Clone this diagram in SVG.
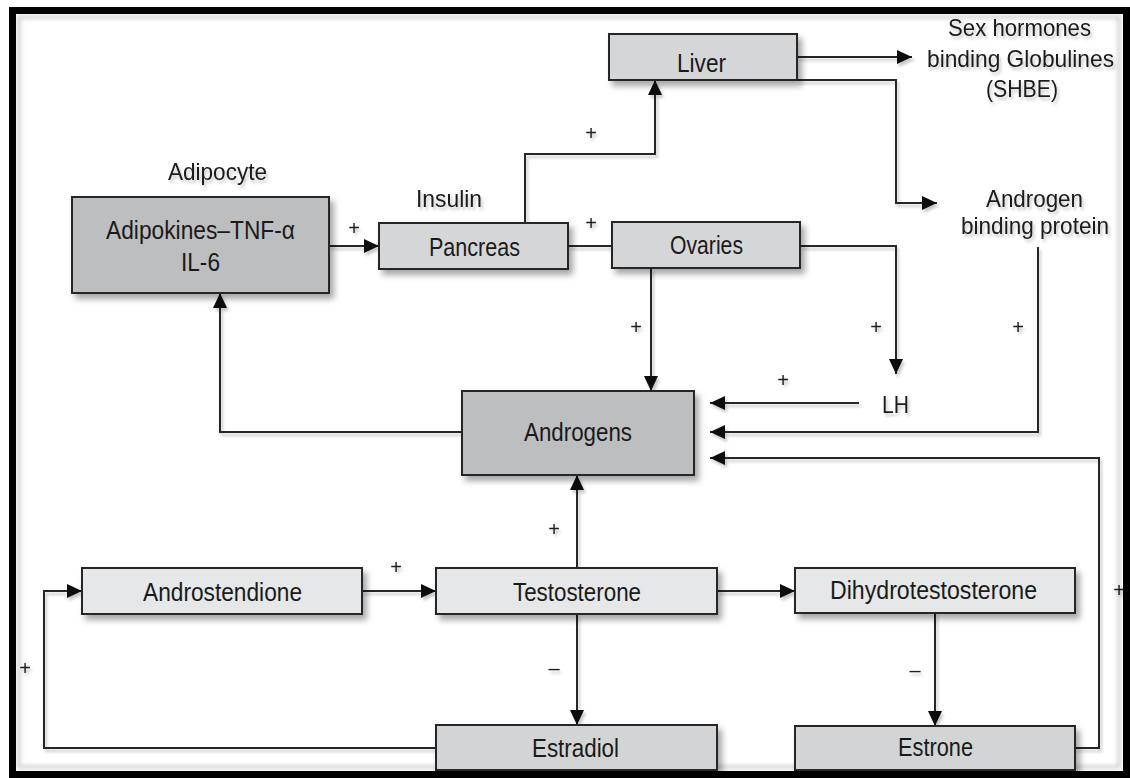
<svg xmlns="http://www.w3.org/2000/svg" width="1130" height="778" viewBox="0 0 1130 778">
<style>
.box{stroke:#262626;stroke-width:2}
.dark{fill:#bdbec0}
.mid{fill:#d5d6d8}
.light{fill:#e6e7e8}
.low{fill:#d3d4d6}
.lbl{font-family:"Liberation Sans Narrow","Liberation Sans",Arial,sans-serif;font-size:26px;fill:#1a1a1a;text-anchor:middle}
.sm{font-size:24px}
.sign{font-family:"Liberation Sans",Arial,sans-serif;font-size:20px;fill:#1a1a1a;text-anchor:middle}
.conn{fill:none;stroke:#262626;stroke-width:2}
</style>
<defs>
<filter id="sh" x="-10%" y="-10%" width="130%" height="140%">
<feDropShadow dx="4" dy="5" stdDeviation="3" flood-color="#000" flood-opacity="0.35"/>
</filter>
<filter id="tsh" x="-10%" y="-20%" width="130%" height="150%">
<feDropShadow dx="2" dy="3" stdDeviation="1.5" flood-color="#000" flood-opacity="0.22"/>
</filter>
<filter id="blur"><feGaussianBlur stdDeviation="2"/></filter>
<marker id="ah" markerUnits="userSpaceOnUse" markerWidth="15" markerHeight="14" viewBox="0 0 15 14" refX="15" refY="7" orient="auto">
<path d="M0,0 L15,7 L0,14 z" fill="#111"/>
</marker>
</defs>
<rect x="0" y="0" width="1130" height="778" fill="#fff"/>
<rect x="19" y="17" width="1100" height="750" fill="none" stroke="#c8c8c8" stroke-width="3" filter="url(#blur)"/>

<g id="connectors" filter="url(#tsh)">
<path class="conn" d="M329,246 H379" marker-end="url(#ah)"/>
<path class="conn" d="M525,223 V154 H655 V80" marker-end="url(#ah)"/>
<path class="conn" d="M568,246 H612"/>
<path class="conn" d="M797,57 H912" marker-end="url(#ah)"/>
<path class="conn" d="M797,80 H896 V203 H937" marker-end="url(#ah)"/>
<path class="conn" d="M800,246 H896 V374" marker-end="url(#ah)"/>
<path class="conn" d="M651,268 V391" marker-end="url(#ah)"/>
<path class="conn" d="M859,403 H710" marker-end="url(#ah)"/>
<path class="conn" d="M1038,247 V432 H710" marker-end="url(#ah)"/>
<path class="conn" d="M1075,748 H1099 V458 H710" marker-end="url(#ah)"/>
<path class="conn" d="M462,432 H220 V293" marker-end="url(#ah)"/>
<path class="conn" d="M577,568 V475" marker-end="url(#ah)"/>
<path class="conn" d="M362,591 H436" marker-end="url(#ah)"/>
<path class="conn" d="M717,591 H795" marker-end="url(#ah)"/>
<path class="conn" d="M577,614 V725" marker-end="url(#ah)"/>
<path class="conn" d="M935,613 V726" marker-end="url(#ah)"/>
<path class="conn" d="M436,748 H44 V591 H82" marker-end="url(#ah)"/>
</g>

<g id="signs" filter="url(#tsh)">
<text class="sign" x="354" y="235">+</text>
<text class="sign" x="591" y="140">+</text>
<text class="sign" x="591" y="230">+</text>
<text class="sign" x="636" y="334">+</text>
<text class="sign" x="876" y="334">+</text>
<text class="sign" x="1018" y="334">+</text>
<text class="sign" x="783" y="387">+</text>
<text class="sign" x="554" y="536">+</text>
<text class="sign" x="396" y="574">+</text>
<text class="sign" x="554" y="675">–</text>
<text class="sign" x="915" y="677">–</text>
<text class="sign" x="25" y="675">+</text>
<text class="sign" x="1119" y="597">+</text>
</g>

<g id="adipocyte-label" filter="url(#tsh)">
<text class="lbl sm" x="217.5" y="180" textLength="99" lengthAdjust="spacingAndGlyphs">Adipocyte</text>
</g>
<g id="adipokines">
<rect class="box dark" x="72" y="197" width="257" height="96" filter="url(#sh)"/>
<text class="lbl" x="200.5" y="239" textLength="189" lengthAdjust="spacingAndGlyphs">Adipokines–TNF-α</text>
<text class="lbl" x="200.5" y="271" textLength="39" lengthAdjust="spacingAndGlyphs">IL-6</text>
</g>
<g id="insulin-label" filter="url(#tsh)">
<text class="lbl sm" x="449" y="206.5" textLength="66" lengthAdjust="spacingAndGlyphs">Insulin</text>
</g>
<g id="pancreas">
<rect class="box mid" x="379" y="223" width="189" height="46" filter="url(#sh)"/>
<text class="lbl" x="474.5" y="256" textLength="91" lengthAdjust="spacingAndGlyphs">Pancreas</text>
</g>
<g id="ovaries">
<rect class="box mid" x="612" y="222" width="188" height="46" filter="url(#sh)"/>
<text class="lbl" x="706.5" y="254" textLength="73" lengthAdjust="spacingAndGlyphs">Ovaries</text>
</g>
<g id="liver">
<rect class="box mid" x="609" y="34" width="188" height="46" filter="url(#sh)"/>
<text class="lbl" x="701.5" y="72" textLength="49" lengthAdjust="spacingAndGlyphs">Liver</text>
</g>
<g id="shbg" filter="url(#tsh)">
<text class="lbl sm" x="1019.5" y="35.5" textLength="143" lengthAdjust="spacingAndGlyphs">Sex hormones</text>
<text class="lbl sm" x="1020.5" y="66.5" textLength="187" lengthAdjust="spacingAndGlyphs">binding Globulines</text>
<text class="lbl sm" x="1022" y="96.5" textLength="72" lengthAdjust="spacingAndGlyphs">(SHBE)</text>
</g>
<g id="abp" filter="url(#tsh)">
<text class="lbl sm" x="1034.5" y="206.5" textLength="97" lengthAdjust="spacingAndGlyphs">Androgen</text>
<text class="lbl sm" x="1035" y="234" textLength="148" lengthAdjust="spacingAndGlyphs">binding protein</text>
</g>
<g id="lh" filter="url(#tsh)">
<text class="lbl sm" x="895.5" y="413" textLength="27" lengthAdjust="spacingAndGlyphs">LH</text>
</g>
<g id="androgens">
<rect class="box dark" x="462" y="391" width="232" height="84" filter="url(#sh)"/>
<text class="lbl" x="578" y="441" textLength="108" lengthAdjust="spacingAndGlyphs">Androgens</text>
</g>
<g id="androstendione">
<rect class="box light" x="82" y="568" width="280" height="46" filter="url(#sh)"/>
<text class="lbl" x="222.5" y="601" textLength="159" lengthAdjust="spacingAndGlyphs">Androstendione</text>
</g>
<g id="testosterone">
<rect class="box light" x="436" y="568" width="281" height="46" filter="url(#sh)"/>
<text class="lbl" x="577" y="601" textLength="128" lengthAdjust="spacingAndGlyphs">Testosterone</text>
</g>
<g id="dihydrotestosterone">
<rect class="box light" x="795" y="568" width="280" height="45" filter="url(#sh)"/>
<text class="lbl" x="933.5" y="599" textLength="207" lengthAdjust="spacingAndGlyphs">Dihydrotestosterone</text>
</g>
<g id="estradiol">
<rect class="box low" x="436" y="725" width="281" height="45" filter="url(#sh)"/>
<text class="lbl" x="575.5" y="757" textLength="87" lengthAdjust="spacingAndGlyphs">Estradiol</text>
</g>
<g id="estrone">
<rect class="box low" x="795" y="726" width="280" height="44" filter="url(#sh)"/>
<text class="lbl" x="935.5" y="756" textLength="75" lengthAdjust="spacingAndGlyphs">Estrone</text>
</g>

<rect id="frame" x="12.5" y="10.5" width="1114" height="764" fill="none" stroke="#000" stroke-width="7"/>
</svg>
